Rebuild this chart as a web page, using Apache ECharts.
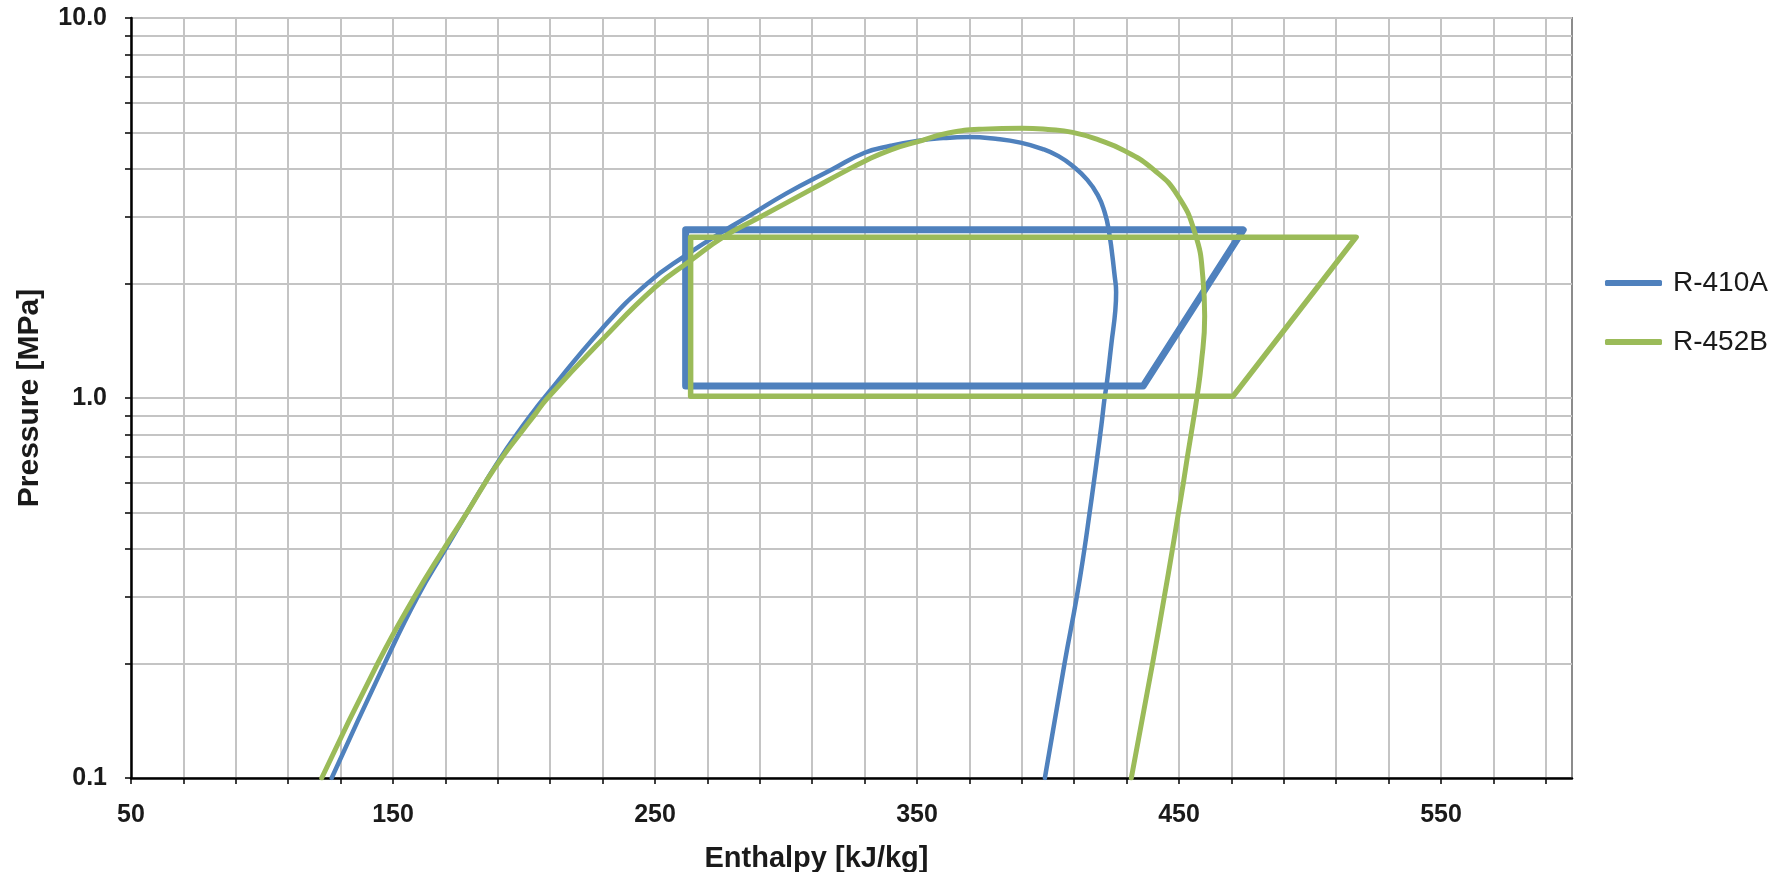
<!DOCTYPE html>
<html><head><meta charset="utf-8">
<script src="https://cdn.jsdelivr.net/npm/echarts@6/dist/echarts.min.js"></script>
<style>html,body{margin:0;padding:0;background:#fff}#c{width:1791px;height:872px}</style>
</head><body><div id="c"></div>
<script>
// Axis ticks / labels
const xTickValues = [50,70,90,110,130,150,170,190,210,230,250,270,290,310,330,350,370,390,410,430,450,470,490,510,530,550,570,590];
const xLabelValues = [50,150,250,350,450,550];
const yTickValues = [0.1,0.2,0.3,0.4,0.5,0.6,0.7,0.8,0.9,1,2,3,4,5,6,7,8,9,10];
const yLabelValues = [0.1,1,10];

// Saturation dome [enthalpy kJ/kg, pressure MPa]
const r410aDome = [
  [126.6,0.1],[146.8,0.2],[159.4,0.3],[170.0,0.4],[178.3,0.5],[185.2,0.6],[191.3,0.7],[197.1,0.8],[202.5,0.9],[207.7,1.0],
  [229.7,1.52],[247.0,2.0],[262.0,2.38],[276.9,2.77],[285.5,3.0],[300.0,3.45],[317.7,4.0],[330.0,4.42],[340.0,4.61],[350.0,4.75],[360.0,4.83],[369.8,4.86],
  [380.0,4.81],[389.5,4.70],[398.0,4.52],[404.0,4.33],[409.4,4.08],[415.0,3.75],[419.0,3.42],[421.5,3.1],[423.2,2.77],[425.5,2.08],[426.0,1.9],[425.7,1.70],[424.2,1.39],[422.5,1.1],
  [421.6,1.0],[420.4,0.85],[418.8,0.7],[417.5,0.6],[415.9,0.5],[413.9,0.4],[411.0,0.3],[406.3,0.2],[398.8,0.1]
];
const r452bDome = [
  [122.8,0.1],[144.1,0.2],[158.2,0.3],[169.3,0.4],[178.3,0.5],[185.3,0.6],[191.8,0.7],[198.2,0.8],[203.9,0.9],[209.0,1.0],
  [229.7,1.42],[250.2,1.96],[263.6,2.3],[276.0,2.65],[289.6,2.98],[310.0,3.55],[321.0,3.9],[330.0,4.2],[340.0,4.5],[350.0,4.72],[362.0,4.98],[375.0,5.1],
  [390.0,5.13],[400.0,5.09],[409.4,5.0],[419.6,4.77],[429.3,4.47],[440.3,3.99],[449.4,3.42],[456.2,2.70],[459.1,2.08],[459.8,1.64],[458.5,1.23],
  [456.8,1.0],[455.2,0.85],[453.2,0.7],[451.7,0.6],[449.8,0.5],[447.5,0.4],[444.4,0.3],[439.9,0.2],[431.8,0.1]
];
// Refrigeration cycles
const r410aCycle = [[261.7,1.075],[436.3,1.075],[474.5,2.77],[261.7,2.77],[261.7,1.075]];
const r452bCycle = [[263.6,1.01],[470.6,1.01],[517.6,2.65],[263.6,2.65],[263.6,1.01]];

const BLUE = '#4F81BD', GREEN = '#9BBB59';
const FONT = 'Liberation Sans, Arial, sans-serif';
const TXT = '#1a1a1a';

const chart = echarts.init(document.getElementById('c'), null, {renderer:'canvas'});
chart.setOption({
  animation: false,
  backgroundColor: '#fff',
  grid: {left:131, right:219, top:18, bottom:94, show:true, borderColor:'#8c8c8c', borderWidth:2,
    backgroundColor:'transparent', containLabel:false, outerBoundsMode:'none'},
  legend: {
    orient:'vertical', left:1600, top:264, itemWidth:57, itemHeight:6, itemGap:31,
    icon:'roundRect',
    data:['R-410A','R-452B'],
    textStyle:{fontSize:28, fontFamily:FONT, color:TXT, padding:[0,0,0,6]}
  },
  xAxis: {
    type:'value', min:50, max:600,
    name:'Enthalpy [kJ/kg]', nameLocation:'middle', nameGap:66,
    nameTextStyle:{fontSize:29, fontWeight:'bold', fontFamily:FONT, color:TXT, padding:[0,70,0,0]},
    axisLine:{show:true, onZero:false, lineStyle:{color:'#000', width:2.5}},
    axisTick:{show:true, customValues:xTickValues, length:6, lineStyle:{color:'#000', width:1.5}},
    axisLabel:{customValues:xLabelValues, fontSize:25, fontWeight:'bold', fontFamily:FONT, color:TXT, margin:25},
    splitLine:{show:true, lineStyle:{color:'#c4c4c4', width:2}}
  },
  yAxis: {
    type:'log', logBase:10, min:0.1, max:10,
    name:'Pressure [MPa]', nameLocation:'middle', nameGap:86,
    nameTextStyle:{fontSize:30, fontWeight:'bold', fontFamily:FONT, color:TXT},
    axisLine:{show:true, onZero:false, lineStyle:{color:'#000', width:2.5}},
    axisTick:{show:true, customValues:yTickValues, length:6, lineStyle:{color:'#000', width:1.5}},
    axisLabel:{customValues:yLabelValues, fontSize:25, fontWeight:'bold', fontFamily:FONT, color:TXT, margin:24,
      formatter: v => Number(v).toFixed(1)},
    splitLine:{show:true, lineStyle:{color:'#c4c4c4', width:2}}
  },
  series: [
    {name:'R-410A dome', type:'line', data:r410aDome, symbol:'none', smooth:0.5, z:2,
      lineStyle:{color:BLUE, width:4.5, cap:'round', join:'round'}, itemStyle:{color:BLUE}},
    {name:'R-410A', type:'line', data:r410aCycle, symbol:'none', z:3,
      lineStyle:{color:BLUE, width:7, cap:'round', join:'round'}, itemStyle:{color:BLUE}},
    {name:'R-452B dome', type:'line', data:r452bDome, symbol:'none', smooth:0.5, z:4,
      lineStyle:{color:GREEN, width:5, cap:'round', join:'round'}, itemStyle:{color:GREEN}},
    {name:'R-452B', type:'line', data:r452bCycle, symbol:'none', z:5,
      lineStyle:{color:GREEN, width:5.5, cap:'round', join:'round'}, itemStyle:{color:GREEN}}
  ]
});
</script>
</body></html>
